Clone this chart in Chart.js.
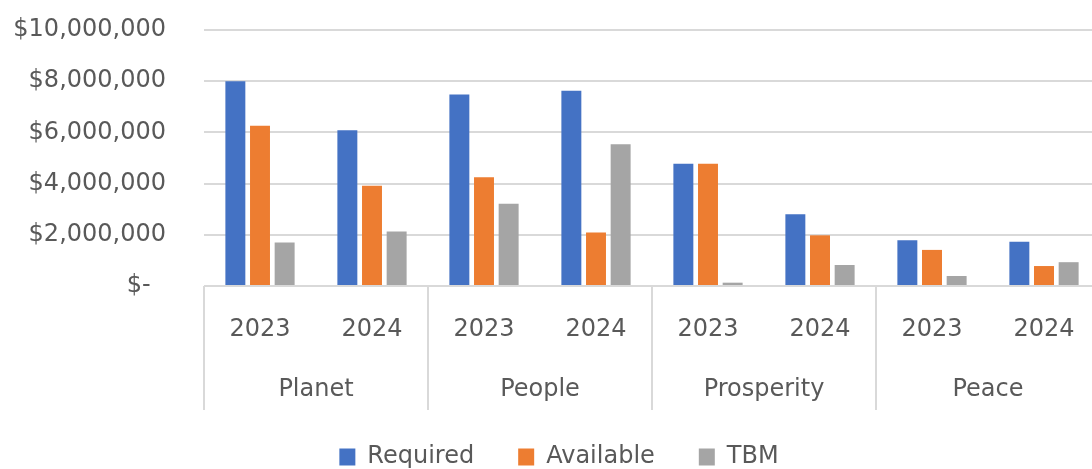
<!DOCTYPE html>
<html>
<head>
<meta charset="utf-8">
<script src="https://cdn.jsdelivr.net/npm/chart.js@4"></script>
<style>
  html, body { margin: 0; padding: 0; background: #fff; overflow: hidden; }
  #wrap { width: 1100px; height: 469px; }
</style>
</head>
<body>
<div id="wrap"><canvas id="chart"></canvas></div>
<script>
// Funding by pillar and year
const groups = ['Planet', 'People', 'Prosperity', 'Peace'];
const years = ['2023', '2024'];
const required  = [8000000, 6080000, 7480000, 7630000, 4780000, 2800000, 1790000, 1730000];
const available = [6260000, 3920000, 4250000, 2090000, 4780000, 1980000, 1410000, 780000];
const tbm       = [1700000, 2130000, 3210000, 5540000, 130000, 820000, 390000, 930000];

const FONT = 'DejaVu Sans';
const TEXT = '#595959';
const GRID = '#d9d9d9';
const LEGEND_HEIGHT = 68;
const LEGEND_SHIFT = 18;

const xLabels = [];
groups.forEach(() => years.forEach(y => xLabels.push(y)));

// Keep the legend band compact while still spacing the items widely
const legendHeight = {
  id: 'legendHeight',
  beforeLayout(chart) {
    const lg = chart.legend;
    if (lg && !lg._fixedFit) {
      const fit = lg.fit.bind(lg);
      lg.fit = function () { fit(); this.height = LEGEND_HEIGHT; };
      lg._fixedFit = true;
    }
  },
  afterLayout(chart) {
    if (chart.legend) chart.legend.left += LEGEND_SHIFT;
  }
};

// Vertical separators between pillar groups, spanning both label rows
const groupSeparators = {
  id: 'groupSeparators',
  afterDraw(chart) {
    const x = chart.scales.x;
    const x2 = chart.scales.x2;
    const ctx = chart.ctx;
    const step = x.getPixelForValue(1) - x.getPixelForValue(0);
    ctx.save();
    ctx.strokeStyle = GRID;
    ctx.lineWidth = 2;
    for (let i = 0; i <= xLabels.length; i += years.length) {
      const px = Math.round(x.getPixelForValue(0) - step / 2 + i * step);
      ctx.beginPath();
      ctx.moveTo(px, chart.chartArea.bottom);
      ctx.lineTo(px, x2.bottom + 9);
      ctx.stroke();
    }
    ctx.restore();
  }
};

new Chart(document.getElementById('chart'), {
  type: 'bar',
  data: {
    labels: xLabels,
    datasets: [
      { label: 'Required',  data: required,  backgroundColor: '#4472C4' },
      { label: 'Available', data: available, backgroundColor: '#ED7D31' },
      { label: 'TBM',       data: tbm,       backgroundColor: '#A5A5A5' }
    ]
  },
  options: {
    responsive: true,
    maintainAspectRatio: false,
    animation: false,
    layout: { padding: { top: 30, right: 0, left: 0, bottom: 0 } },
    datasets: {
      bar: { categoryPercentage: 0.66, barPercentage: 0.81 }
    },
    plugins: {
      tooltip: { enabled: false },
      legend: {
        position: 'bottom',
        labels: {
          boxWidth: 16,
          boxHeight: 17,
          padding: 44,
          color: TEXT,
          font: { family: FONT, size: 24 }
        }
      }
    },
    scales: {
      y: {
        min: 0,
        max: 10000000,
        ticks: {
          stepSize: 2000000,
          padding: 38,
          color: TEXT,
          font: { family: FONT, size: 24 },
          callback: v => v === 0 ? '$-  ' : '$' + Number(v).toLocaleString('en-US')
        },
        grid: { color: GRID, lineWidth: 2, drawTicks: false },
        border: { display: false },
        afterFit: s => { s.width = 204; s.paddingTop = 0; s.paddingBottom = 0; }
      },
      x: {
        weight: 0,
        ticks: {
          padding: 21,
          color: TEXT,
          maxRotation: 0,
          autoSkip: false,
          font: { family: FONT, size: 24 }
        },
        grid: { display: false },
        border: { display: false },
        afterFit: s => { s.height = 72; }
      },
      x2: {
        type: 'category',
        position: 'bottom',
        weight: 1,
        labels: groups,
        offset: true,
        ticks: {
          padding: 9,
          color: TEXT,
          maxRotation: 0,
          autoSkip: false,
          font: { family: FONT, size: 24 }
        },
        grid: { display: false },
        border: { display: false },
        afterFit: s => { s.height = 43; }
      }
    }
  },
  plugins: [legendHeight, groupSeparators]
});
</script>
</body>
</html>
